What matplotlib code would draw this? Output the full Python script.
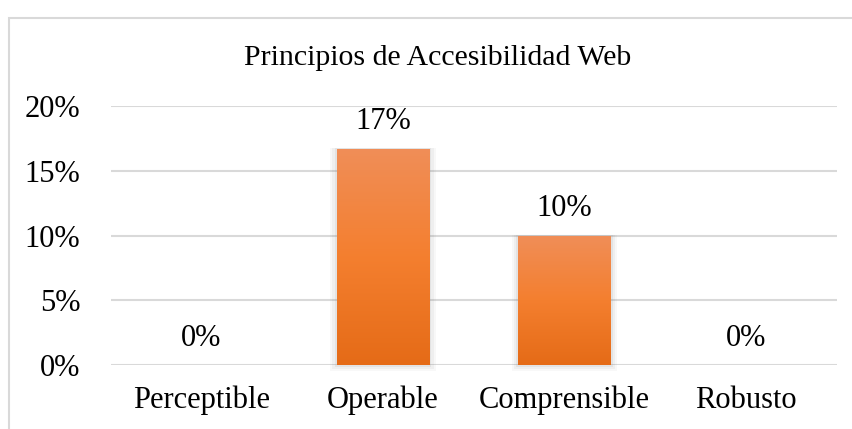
import matplotlib.pyplot as plt
import numpy as np
from matplotlib.patches import Rectangle
from matplotlib.colors import LinearSegmentedColormap

categories = ['Perceptible', 'Operable', 'Comprensible', 'Robusto']
values = [0.0, 0.167, 0.10, 0.0]
labels = ['0%', '17%', '10%', '0%']
yticks = [0, 0.05, 0.10, 0.15, 0.20]
ytick_labels = ['0%', '5%', '10%', '15%', '20%']

plt.rcParams['font.family'] = ['Liberation Serif', 'DejaVu Serif']

fig = plt.figure(figsize=(8.52, 4.29), dpi=100)
ax = fig.add_axes([0.130, 0.149, 0.852, 0.604])

# light frame around chart area (runs off the right and bottom edges)
fig.patches.append(Rectangle((8.5 / 852, -0.1), 1.2, 1 - 17.5 / 429 + 0.1, transform=fig.transFigure,
                             fill=False, edgecolor='#d9d9d9', linewidth=1.5))

x = np.arange(len(categories))
bars = ax.bar(x, values, width=0.51, color='#f07f2e', zorder=3)

# soft shadow and vertical gradient on each bar
cmap = LinearSegmentedColormap.from_list('og', ['#e56b17', '#f47f2f', '#f08e58'])
grad = np.linspace(0, 1, 256).reshape(-1, 1)
for b in bars:
    h = b.get_height()
    if h <= 0:
        continue
    x0 = b.get_x()
    w = b.get_width()
    for i, a in enumerate([0.10, 0.07, 0.05]):
        d = 0.012 * (i + 1)
        ax.add_patch(Rectangle((x0 - d, -0.0015 * (i + 1)), w + 2 * d, h + 0.0015 * (i + 1) + 0.0005,
                               color='#808080', alpha=a, zorder=2, linewidth=0, clip_on=False))
    im = ax.imshow(grad, extent=(x0, x0 + w, 0, h), origin='lower', cmap=cmap,
                   aspect='auto', zorder=4)
    im.set_clip_path(b)

for xi, v, lab in zip(x, values, labels):
    ax.annotate(lab, (xi, v), xytext=(0, 14), textcoords='offset points',
                ha='center', va='baseline', fontsize=22)

ax.set_xlim(-0.5, 3.5)
ax.set_ylim(0, 0.20)
ax.set_yticks(yticks)
ax.set_yticklabels(ytick_labels, fontsize=22)
ax.set_xticks(x)
ax.set_xticklabels(categories, fontsize=22)
ax.tick_params(axis='y', length=0, pad=22)
ax.tick_params(axis='x', length=0, pad=15)
ax.grid(axis='y', color='#d9d9d9', linewidth=1.5, zorder=0)
ax.set_axisbelow(True)
for s in ax.spines.values():
    s.set_visible(False)

fig.text(0.5135, 1 - 65 / 429, 'Principios de Accesibilidad Web', ha='center', va='baseline', fontsize=21.5)

plt.savefig('out.png', dpi=100)
